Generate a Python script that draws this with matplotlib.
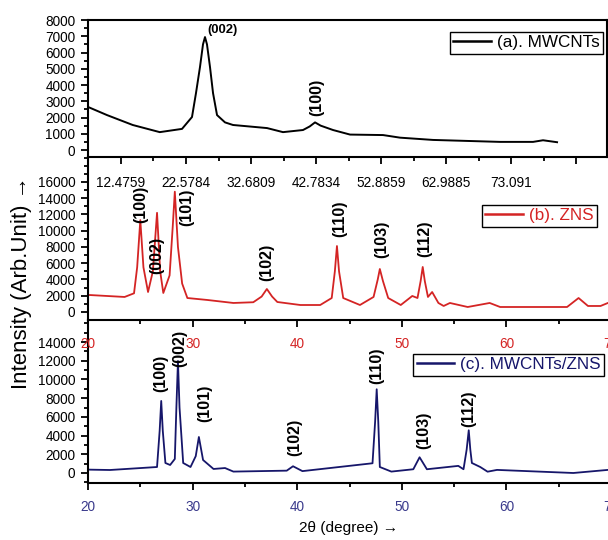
import matplotlib
matplotlib.use('Agg')
import matplotlib.pyplot as plt
from matplotlib import font_manager
from matplotlib.ticker import FixedLocator, MultipleLocator

# ---- data ----
# (a) MWCNTs, x in the panel's own tick units
a_x = [7.35, 10.3, 14.3, 18.5, 21.96, 23.51, 24.13, 24.75, 25.22, 25.53, 25.84,
       26.31, 26.78, 27.40, 28.64, 29.88, 35.17, 37.65, 40.76, 41.8, 42.63,
       43.5, 45.43, 48.07, 53.2, 55.84, 60.97, 71.38, 76.51, 78.06, 80.24]
a_y = [2650, 2150, 1540, 1100, 1300, 2030, 3500, 5100, 6500, 6950, 6500,
       5100, 3500, 2150, 1700, 1540, 1350, 1100, 1230, 1450, 1700,
       1500, 1230, 950, 920, 760, 620, 500, 500, 600, 480]
a_ticks = [12.4759, 22.5784, 32.6809, 42.7834, 52.8859, 62.9885, 73.091, 83.1935]
a_ticklabels = ['12.4759', '22.5784', '32.6809', '42.7834', '52.8859',
                '62.9885', '73.091', '']

# (b) ZNS
b_x = [20.0, 23.5, 24.4, 24.7, 25.0, 25.3, 25.74, 26.2, 26.6, 26.9, 27.2,
       27.8, 28.1, 28.3, 28.6, 29.0, 29.5, 31.4, 33.9, 35.8, 36.6, 37.1,
       37.6, 38.1, 40.3, 42.2, 43.3, 43.6, 43.8, 44.0, 44.4, 46.0, 47.3,
       47.7, 47.9, 48.2, 48.7, 49.9, 51.0, 51.5, 51.8, 52.0, 52.2, 52.5,
       52.9, 53.5, 54.0, 54.6, 56.3, 58.4, 59.4, 65.8, 66.9, 67.8, 69.0, 69.7]
b_y = [2100, 1850, 2300, 5500, 11300, 5500, 2460, 5000, 12200, 5000, 2340,
       4500, 10500, 14800, 8000, 3500, 1720, 1480, 1110, 1200, 1900, 2830,
       1900, 1230, 860, 860, 1720, 5000, 8120, 5000, 1720, 860, 1850,
       4000, 5290, 3800, 1720, 860, 1970, 1720, 3800, 5540, 3800, 1850,
       2460, 1110, 740, 1110, 615, 1110, 615, 615, 1720, 740, 740, 1110]

# (c) MWCNTs/ZNS
c_x = [20.0, 22.1, 26.6, 26.85, 27.0, 27.15, 27.4, 27.85, 28.3, 28.45, 28.6,
       28.75, 29.1, 29.8, 30.3, 30.6, 31.0, 32.0, 33.1, 33.9, 39.0, 39.6,
       40.5, 47.2, 47.45, 47.6, 47.75, 47.9, 49.0, 51.1, 51.7, 52.4, 55.4,
       55.9, 56.2, 56.4, 56.55, 56.7, 57.5, 58.2, 59.1, 66.4, 69.7]
c_y = [360, 320, 640, 4500, 7700, 4500, 1070, 855, 1500, 7000, 11970,
       7000, 1070, 640, 1800, 3850, 1390, 430, 530, 150, 250, 720,
       200, 1040, 5500, 8950, 5500, 640, 150, 400, 1680, 400, 760,
       400, 2500, 4570, 2500, 1070, 640, 140, 330, 0, 330]

b_peaks = ['(100)', '(002)', '(101)', '(102)', '(110)', '(103)', '(112)']
b_peak_x = [25.0, 26.6, 29.4, 37.1, 44.1, 48.1, 52.2]
b_peak_y = [13300, 6900, 12900, 6150, 11450, 9000, 9000]
c_peaks = ['(100)', '(002)', '(101)', '(102)', '(110)', '(103)', '(112)']
c_peak_x = [27.0, 28.8, 31.2, 39.8, 47.6, 52.1, 56.4]
c_peak_y = [10660, 13330, 7450, 3820, 11510, 4560, 6920]

RED = '#d42424'
NAVY = '#16166a'
NAVY_TXT = '#3a3a8c'


def pick(*names):
    for n in names:
        try:
            font_manager.findfont(n, fallback_to_default=False)
            return n
        except ValueError:
            pass
    return 'DejaVu Sans'


NARROW = pick('Liberation Sans Narrow', 'Liberation Sans')
REG = pick('Liberation Sans', 'DejaVu Sans')
k = 1.0 if NARROW == 'Liberation Sans Narrow' else 0.85
plt.rcParams['font.family'] = [NARROW, 'DejaVu Sans']
tick_fs = 11.5 * k

W, H = 608, 540
fig = plt.figure(figsize=(W / 100, H / 100), dpi=100)


def box(l, t, r, b):
    return [l / W, 1 - b / H, (r - l) / W, (b - t) / H]


ax_c = fig.add_axes(box(88, 320, 611, 483))
ax_b = fig.add_axes(box(88, 157, 611, 320))
ax_a = fig.add_axes(box(88, 20, 607, 157))

for ax in (ax_a, ax_b, ax_c):
    ax.patch.set_visible(False)
    for s in ax.spines.values():
        s.set_linewidth(1.5)
    ax.tick_params(which='both', direction='out', width=1.3,
                   labelsize=tick_fs, pad=4)
    ax.tick_params(which='major', length=5)
    ax.tick_params(which='minor', length=3)

# panel a
ax_a.plot(a_x, a_y, color='black', lw=1.4, label='(a). MWCNTs')
ax_a.set_xlim(7.35, 88.0)
ax_a.set_ylim(-430, 8000)
ax_a.xaxis.set_major_locator(FixedLocator(a_ticks))
ax_a.set_xticklabels(a_ticklabels)
ax_a.xaxis.set_minor_locator(FixedLocator([t - 5.05125 for t in a_ticks]))
ax_a.yaxis.set_major_locator(MultipleLocator(1000))
ax_a.yaxis.set_minor_locator(MultipleLocator(500))
ax_a.tick_params(axis='x', which='major', pad=9)
ax_a.text(28.2, 7400, '(002)', fontsize=11 * k, fontweight='bold',
          ha='center', va='center')
ax_a.text(42.9, 3260, '(100)', fontsize=11.5, fontweight='bold', family=REG,
          rotation=90, ha='center', va='center')

# panel b
ax_b.plot(b_x, b_y, color=RED, lw=1.3, label='(b). ZNS')
ax_b.set_xlim(20, 70)
ax_b.set_ylim(-985, 19070)
ax_b.spines['top'].set_visible(False)
ax_b.spines['right'].set_visible(False)
ax_b.xaxis.set_major_locator(MultipleLocator(10))
ax_b.xaxis.set_minor_locator(MultipleLocator(5))
ax_b.yaxis.set_major_locator(FixedLocator(range(0, 16001, 2000)))
ax_b.yaxis.set_minor_locator(MultipleLocator(1000))
ax_b.tick_params(axis='x', labelcolor=RED, pad=7)
for t, x, y in zip(b_peaks, b_peak_x, b_peak_y):
    ax_b.text(x, y, t, fontsize=11.5, fontweight='bold', family=REG,
              rotation=90, ha='center', va='center')

# panel c
ax_c.plot(c_x, c_y, color=NAVY, lw=1.3, label='(c). MWCNTs/ZNS')
ax_c.set_xlim(20, 70)
ax_c.set_ylim(-1070, 16355)
ax_c.spines['top'].set_visible(False)
ax_c.spines['right'].set_visible(False)
ax_c.xaxis.set_major_locator(MultipleLocator(10))
ax_c.xaxis.set_minor_locator(MultipleLocator(5))
ax_c.yaxis.set_major_locator(FixedLocator(range(0, 14001, 2000)))
ax_c.yaxis.set_minor_locator(MultipleLocator(1000))
ax_c.tick_params(axis='x', labelcolor=NAVY_TXT, pad=7)
for t, x, y in zip(c_peaks, c_peak_x, c_peak_y):
    ax_c.text(x, y, t, fontsize=11.5, fontweight='bold', family=REG,
              rotation=90, ha='center', va='center')

leg_kw = dict(loc='upper right', borderaxespad=0, fancybox=False,
              edgecolor='black', framealpha=1, fontsize=14.5 * k,
              handlelength=2.2, handletextpad=0.35, borderpad=0.2)
for ax, anchor, col in ((ax_a, (0.992, 0.912), 'black'),
                        (ax_b, (0.973, 0.706), RED),
                        (ax_c, (0.987, 0.791), NAVY)):
    lg = ax.legend(bbox_to_anchor=anchor, labelcolor=col, **leg_kw)
    lg.get_frame().set_linewidth(1.0)
    lg.get_lines()[0].set_linewidth(1.8)

fig.text(22 / W, 1 - 283 / H, 'Intensity (Arb.Unit) \u2192', rotation=90,
         ha='center', va='center', fontsize=16, family=[REG, 'DejaVu Sans'])
fig.text(349 / W, 1 - 528 / H, '2\u03b8 (degree) \u2192', ha='center',
         va='center', fontsize=13 * k, family=[NARROW, 'DejaVu Sans'])

fig.savefig('out.png', dpi=100)
